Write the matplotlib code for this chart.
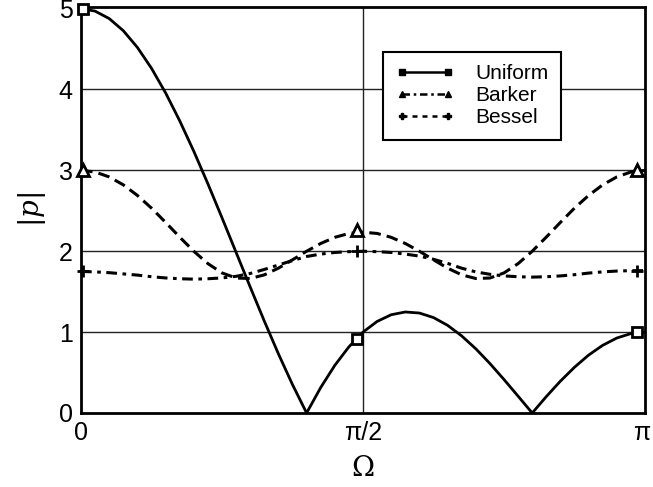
import numpy as np
import matplotlib
matplotlib.use("Agg")
import matplotlib.pyplot as plt
from matplotlib.lines import Line2D
import matplotlib.transforms as mtransforms

plt.rcParams['font.family'] = ['Liberation Sans', 'DejaVu Sans']
plt.rcParams['mathtext.fontset'] = 'dejavuserif'

# Sample positions as fractions of pi (step 1/40)
omega_frac = np.arange(41) / 40.0

uniform = [5.0, 4.969, 4.877, 4.727, 4.520, 4.262, 3.958, 3.613, 3.236, 2.834,
           2.414, 1.986, 1.558, 1.137, 0.732, 0.351, 0.0, 0.315, 0.589, 0.818,
           1.0, 1.132, 1.215, 1.249, 1.236, 1.180, 1.084, 0.953, 0.794, 0.612,
           0.414, 0.208, 0.0, 0.203, 0.394, 0.566, 0.716, 0.837, 0.927, 0.982, 1.0]

barker = [3.0, 2.980, 2.919, 2.821, 2.690, 2.533, 2.357, 2.175, 2.0, 1.847,
          1.732, 1.669, 1.663, 1.708, 1.791, 1.894, 2.0, 2.096, 2.172, 2.220,
          2.236, 2.220, 2.172, 2.096, 2.0, 1.894, 1.791, 1.708, 1.663, 1.669,
          1.732, 1.847, 2.0, 2.175, 2.357, 2.533, 2.690, 2.821, 2.919, 2.980, 3.0]

bessel = [1.75, 1.745, 1.735, 1.72, 1.705, 1.685, 1.67, 1.66, 1.655, 1.66,
          1.67, 1.69, 1.725, 1.775, 1.83, 1.885, 1.935, 1.965, 1.985, 1.995,
          2.0, 1.995, 1.985, 1.965, 1.94, 1.90, 1.85, 1.79, 1.745, 1.715,
          1.695, 1.685, 1.68, 1.685, 1.695, 1.71, 1.73, 1.745, 1.755, 1.76, 1.76]

# Marker positions (fractions of pi) and values
marker_frac = [0.003, 0.4885, 0.985]
uniform_marks = [5.0, 0.92, 1.0]
barker_marks = [3.0, 2.26, 3.0]
bessel_marks = [1.75, 2.0, 1.76]

series_names = ["Uniform", "Barker", "Bessel"]
xtick_labels = ["0", "\u03c0/2", "\u03c0"]
ytick_labels = ["0", "1", "2", "3", "4", "5"]

fig = plt.figure(figsize=(6.53, 4.87), dpi=100)
ax = fig.add_axes([81/653, (487-413)/487, 564/653, 406/487])

x = np.array(omega_frac) * np.pi
mx = np.array(marker_frac) * np.pi

# grid
for yv in [1, 2, 3, 4]:
    ax.axhline(yv, color='#222222', lw=1.0, zorder=1)
ax.axvline(np.pi / 2, color='#222222', lw=1.0, zorder=1)

ax.plot(x, uniform, color='black', lw=2.0, ls='-', zorder=3)
ax.plot(x, barker, color='black', lw=2.2, ls=(0, (3.8, 2.0)), zorder=3)
ax.plot(x, bessel, color='black', lw=2.2, ls=(0, (3.5, 1.8, 1.2, 1.8)), zorder=3)

ax.plot(mx, uniform_marks, ls='none', marker='s', ms=7, mfc='white', mec='black', mew=2, zorder=4, clip_on=False)
ax.plot(mx, barker_marks, ls='none', marker='^', ms=8, mfc='white', mec='black', mew=2, zorder=4, clip_on=False)
ax.plot(mx, bessel_marks, ls='none', marker='+', ms=9, mec='black', mew=2, zorder=4, clip_on=False)

ax.set_xlim(0, np.pi)
ax.set_ylim(0, 5.02)
ax.set_xticks([0, np.pi / 2, np.pi])
ax.set_xticklabels(xtick_labels, fontsize=18)
ax.set_yticks([0, 1, 2, 3, 4, 5])
ax.set_yticklabels(ytick_labels, fontsize=18)
ax.tick_params(length=0, pad=6)
for s in ax.spines.values():
    s.set_linewidth(2.0)

# keep the pi label inside the figure
lbls = ax.get_xticklabels()
lbls[-1].set_transform(lbls[-1].get_transform() +
                       mtransforms.ScaledTranslation(-3/100, 0, fig.dpi_scale_trans))

ax.set_xlabel(r"$\Omega$", fontsize=20, labelpad=8)
ax.set_ylabel(r"$|p|$", fontsize=20, labelpad=8)

handles = [
    Line2D([0], [0], color='black', lw=1.8, ls='-', marker='s', ms=5, mfc='black'),
    Line2D([0], [0], color='black', lw=1.8, ls=(0, (3, 1.5, 1, 1.5)), marker='^', ms=5, mfc='black'),
    Line2D([0], [0], color='black', lw=1.8, ls=(0, (2, 2)), marker='P', ms=5, mfc='black'),
]
leg = ax.legend(handles, series_names, numpoints=2, loc='upper left',
                bbox_to_anchor=(0.536, 0.89), fontsize=15, frameon=True,
                fancybox=False, handlelength=2.8, borderpad=0.6,
                labelspacing=0.15, handletextpad=1.0, borderaxespad=0)
leg.get_frame().set_edgecolor('black')
leg.get_frame().set_linewidth(1.5)
leg.get_frame().set_alpha(1)

fig.savefig("out.png", dpi=100)
